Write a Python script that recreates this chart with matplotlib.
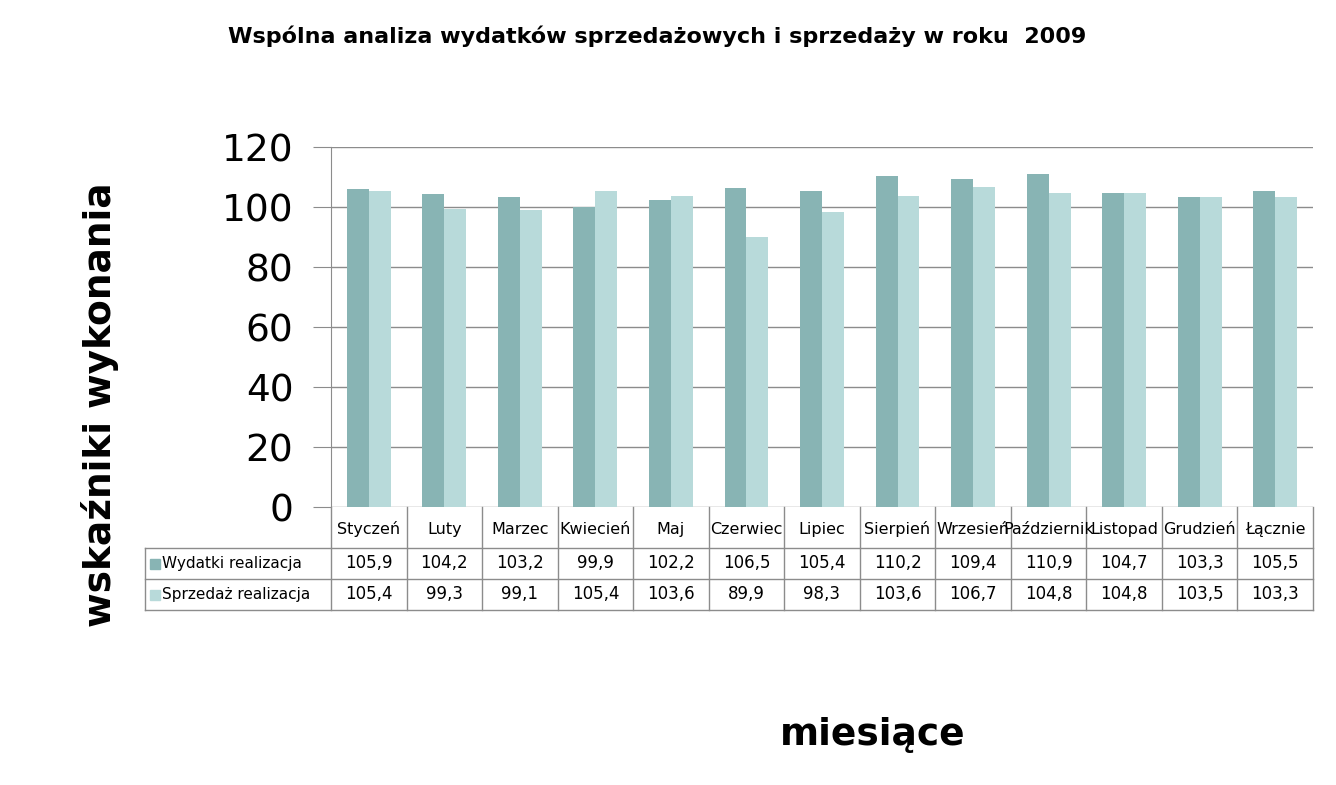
import numpy as np
import matplotlib.pyplot as plt
import matplotlib.transforms as mtransforms
from matplotlib.patches import Rectangle

months = ["Styczeń", "Luty", "Marzec", "Kwiecień", "Maj", "Czerwiec", "Lipiec",
          "Sierpień", "Wrzesień", "Październik", "Listopad", "Grudzień", "Łącznie"]
wydatki = [105.9, 104.2, 103.2, 99.9, 102.2, 106.5, 105.4, 110.2, 109.4, 110.9, 104.7, 103.3, 105.5]
sprzedaz = [105.4, 99.3, 99.1, 105.4, 103.6, 89.9, 98.3, 103.6, 106.7, 104.8, 104.8, 103.5, 103.3]
series_names = ["Wydatki realizacja", "Sprzedaż realizacja"]
colors = ["#88B4B4", "#B8DADA"]
grid_c = "#8C8C8C"

W, H = 1336, 785
fig = plt.figure(figsize=(W / 100, H / 100), dpi=100)
ax = fig.add_axes([331 / W, 1 - 507 / H, (1313 - 331) / W, 360 / H])

x = np.arange(len(months))
bw = 0.29
ax.bar(x - bw / 2, wydatki, bw, color=colors[0], zorder=3)
ax.bar(x + bw / 2, sprzedaz, bw, color=colors[1], zorder=3)

ax.set_xlim(-0.5, len(months) - 0.5)
ax.set_ylim(0, 120)
ax.set_yticks(range(0, 121, 20))
ax.yaxis.grid(True, color=grid_c, linewidth=1, zorder=0)
ax.tick_params(axis="y", length=13, color=grid_c, labelsize=27, pad=14)
ax.tick_params(axis="x", bottom=False, labelbottom=False)
for s in ["top", "right", "bottom"]:
    ax.spines[s].set_visible(False)
ax.spines["left"].set_color(grid_c)

# data table under the plot
tr = mtransforms.blended_transform_factory(ax.transData, ax.transAxes)
h = 360.0
cw = (1313 - 331) / len(months)
y0, y1, y2, y3 = 0, -41 / h, -72 / h, -103 / h
b0, b1, b2 = -27 / h, -61 / h, -92 / h   # text baselines
xl = -0.5 - (331 - 145) / cw
xr = len(months) - 0.5
lk = dict(color=grid_c, linewidth=1, transform=tr, clip_on=False)
ax.plot([xl, xr], [y1, y1], **lk)
ax.plot([xl, xr], [y2, y2], **lk)
ax.plot([xl, xr], [y3, y3], **lk)
ax.plot([xl, xl], [y1, y3], **lk)
for i in range(len(months) + 1):
    ax.plot([i - 0.5, i - 0.5], [y0, y3], **lk)

for i, m in enumerate(months):
    ax.text(i, b0, m, transform=tr, ha="center", va="baseline", fontsize=11.5)
    ax.text(i, b1, f"{wydatki[i]:.1f}".replace(".", ","), transform=tr,
            ha="center", va="baseline", fontsize=12)
    ax.text(i, b2, f"{sprzedaz[i]:.1f}".replace(".", ","), transform=tr,
            ha="center", va="baseline", fontsize=12)

for yy, bl, name, c in [((y1 + y2) / 2, b1, series_names[0], colors[0]),
                        ((y2 + y3) / 2, b2, series_names[1], colors[1])]:
    ax.add_patch(Rectangle((xl + 5 / cw, yy - 5 / h), 10 / cw, 10 / h, color=c,
                           transform=tr, clip_on=False))
    ax.text(xl + 17 / cw, bl, name, transform=tr, ha="left", va="baseline", fontsize=11)

fig.text(657 / W, 1 - 36 / H, "Wspólna analiza wydatków sprzedażowych i sprzedaży w roku  2009",
         ha="center", va="center", fontsize=16, fontweight="bold")
fig.text(100 / W, 1 - 405 / H, "wskaźniki wykonania", rotation=90,
         ha="center", va="center", fontsize=27, fontweight="bold")
fig.text(873 / W, 1 - 735 / H, "miesiące", ha="center", va="center",
         fontsize=27, fontweight="bold")

fig.savefig("out.png", dpi=100)
